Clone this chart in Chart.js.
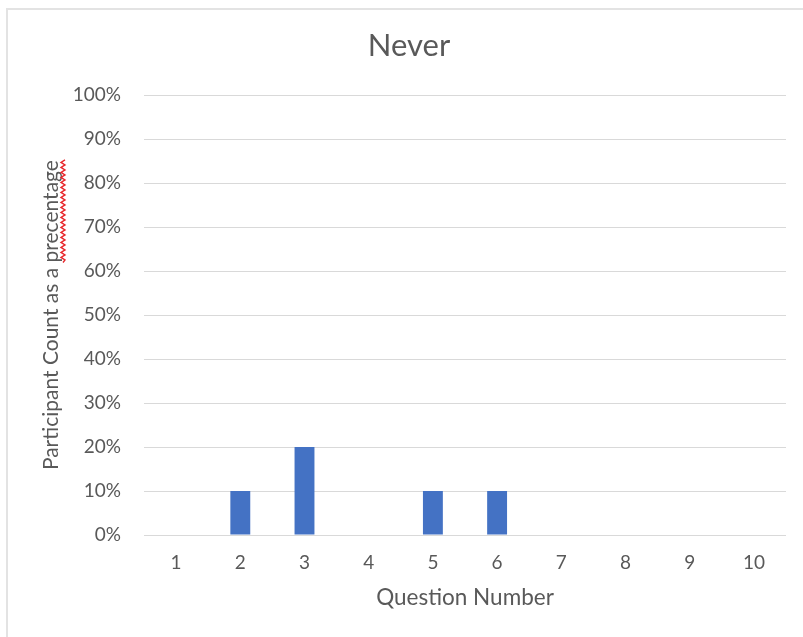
<!DOCTYPE html>
<html>
<head>
<meta charset="utf-8">
<script src="https://cdn.jsdelivr.net/npm/chart.js@4.4.1/dist/chart.umd.min.js"></script>
<style>
  html, body { margin: 0; padding: 0; background: #fff; }
  #wrap { position: relative; width: 803px; height: 637px; }
  #frame { position: absolute; left: 6px; top: 8px; right: 0; bottom: 0;
           border-left: 2px solid #e3e3e3; border-top: 2px solid #e3e3e3; }
  canvas { position: absolute; left: 0; top: 0; }
</style>
</head>
<body>
<div id="wrap">
  <div id="frame"></div>
  <canvas id="myChart" width="803" height="637"></canvas>
</div>
<script>
// Share of participants answering "Never", per question
const questions = ['1', '2', '3', '4', '5', '6', '7', '8', '9', '10'];
const neverPct = [0, 10, 20, 0, 10, 10, 0, 0, 0, 0];
const yTitle = 'Participant Count as a precentage';
const flaggedWord = 'precentage';

const grey = '#595959';
const fontFamily = 'Lato, "Open Sans", sans-serif';

// red wavy underline under the misspelt word of the y axis title
const squiggle = {
  id: 'squiggle',
  afterDraw(chart) {
    const { ctx, chartArea } = chart;
    const yScale = chart.scales.y;
    const font = yScale.options.title.font;
    ctx.save();
    ctx.font = font.size + 'px ' + fontFamily;
    const total = ctx.measureText(yTitle).width;
    const before = ctx.measureText(yTitle.slice(0, yTitle.indexOf(flaggedWord))).width;
    const cy = (chartArea.top + chartArea.bottom) / 2;
    const yStart = cy + total / 2 - before;
    const yEnd = cy - total / 2;
    const x = 63;
    ctx.strokeStyle = '#e8262b';
    ctx.lineWidth = 1.4;
    ctx.beginPath();
    let side = 1;
    ctx.moveTo(x, yStart);
    for (let y = yStart; y > yEnd; y -= 2.5) {
      ctx.lineTo(x + side * 2, y - 2.5);
      side = -side;
    }
    ctx.stroke();
    ctx.restore();
  }
};

new Chart(document.getElementById('myChart'), {
  type: 'bar',
  data: {
    labels: questions,
    datasets: [{
      label: 'Never',
      data: neverPct,
      backgroundColor: '#4472C4',
      borderWidth: 0,
      categoryPercentage: 1,
      barPercentage: 0.31
    }]
  },
  options: {
    responsive: false,
    animation: false,
    layout: { padding: { left: 32, right: 17, top: 0, bottom: 0 } },
    plugins: {
      legend: { display: false },
      tooltip: { enabled: false },
      title: {
        display: true,
        text: 'Never',
        color: grey,
        font: { family: fontFamily, size: 31, weight: 'normal' },
        padding: { top: 27, bottom: 31 }
      }
    },
    scales: {
      x: {
        grid: { display: false, drawTicks: false },
        border: { display: false },
        ticks: { color: grey, font: { family: fontFamily, size: 19 }, padding: 16 },
        title: {
          display: true,
          text: 'Question Number',
          color: grey,
          font: { family: fontFamily, size: 22.5 },
          padding: { top: 0, bottom: 26 }
        },
        afterFit(scale) { scale.height = 102; }
      },
      y: {
        min: 0,
        max: 100,
        grid: { color: '#d9d9d9', lineWidth: 1, drawTicks: false },
        border: { display: false },
        ticks: {
          stepSize: 10,
          color: grey,
          font: { family: fontFamily, size: 19 },
          padding: 23,
          callback: v => v + '%'
        },
        title: {
          display: true,
          text: yTitle,
          color: grey,
          font: { family: fontFamily, size: 21 },
          padding: { top: 7, bottom: 0 }
        },
        afterFit(scale) { scale.width = 112; }
      }
    }
  },
  plugins: [squiggle]
});
</script>
</body>
</html>
